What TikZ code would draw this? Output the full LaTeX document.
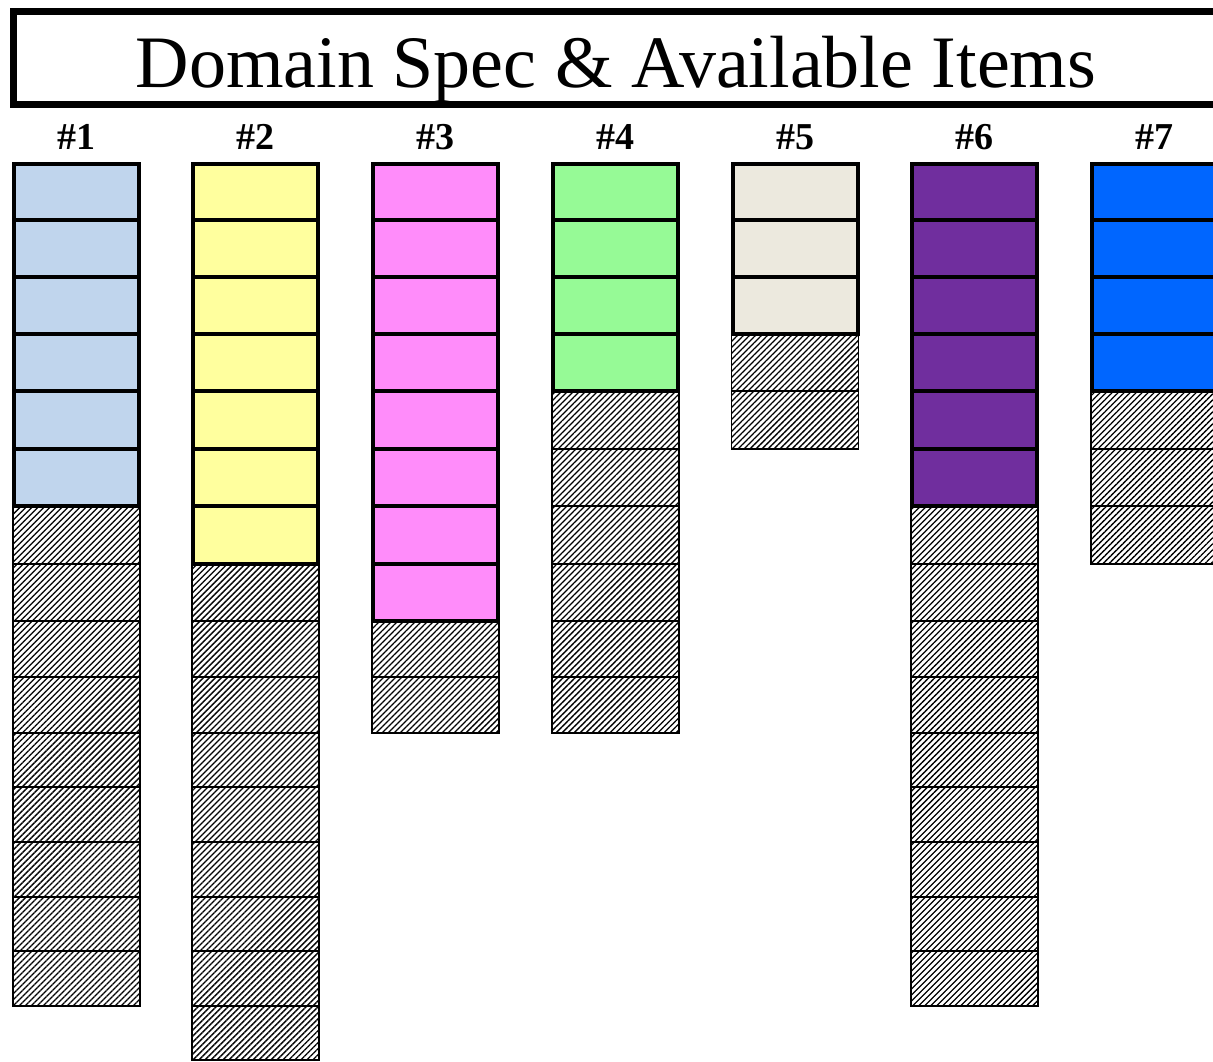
\documentclass[tikz,border=0pt]{standalone}
\usepackage{fontspec}
\setmainfont{Liberation Serif}
\usetikzlibrary{patterns.meta}
\definecolor{cA}{RGB}{192,213,237}
\definecolor{cB}{RGB}{255,255,158}
\definecolor{cC}{RGB}{255,140,250}
\definecolor{cD}{RGB}{150,250,150}
\definecolor{cE}{RGB}{236,233,222}
\definecolor{cF}{RGB}{112,46,158}
\definecolor{cG}{RGB}{0,102,255}
\tikzset{
  titlebox/.style={draw=black, line width=7pt, fill=white},
  titletext/.style={font=\fontsize{74}{80}\selectfont, anchor=base, inner sep=0pt},
  collabel/.style={font=\bfseries\fontsize{38}{40}\selectfont, anchor=base, inner sep=0pt},
  itemcell/.style={draw=black, line width=4pt},
  freecell/.style={draw=black, line width=1.8pt,
    pattern={Lines[angle=45, distance=4.24pt, line width=1.3pt]}, pattern color=black},
}
\begin{document}
\begin{tikzpicture}[x=1pt,y=-1pt]
\useasboundingbox (0,0) rectangle (1213,1061);
\clip (0,0) rectangle (1213,1061);
\fill[white] (0,0) rectangle (1213,1061);
% title
\draw[titlebox] (13,11) rectangle (1222,104);
\node[titletext] (title) at (616,87) {Domain Spec \& Available Items};
\def\Ys{{163.5,219.5,277,334,391,449,506,564,621,677,733,787,842,897,951,1006,1060}}
\foreach \x/\c/\n/\m/\k in {12/cA/6/15/1, 191/cB/7/16/2, 371/cC/8/10/3, 551/cD/4/10/4, 730.5/cE/3/5/5, 910/cF/6/15/6, 1090/cG/4/7/7}{
  \node[collabel] (lab\k) at (\x+64.5,149) {\#\k};
  % free (hatched) slots
  \pgfmathtruncatemacro\mm{\m-1}
  \foreach \r in {\n,...,\mm}{
    \pgfmathsetmacro\ya{\Ys[\r]}
    \pgfmathsetmacro\yb{\Ys[\r+1]}
    \draw[freecell] (\x+1,\ya) rectangle (\x+128,\yb);
  }
  % item slots
  \pgfmathtruncatemacro\nn{\n-1}
  \foreach \r in {0,...,\nn}{
    \pgfmathsetmacro\ya{\Ys[\r]}
    \pgfmathsetmacro\yb{\Ys[\r+1]}
    \draw[itemcell, fill=\c] (\x+2,\ya) rectangle (\x+127,\yb);
  }
}
\end{tikzpicture}
\end{document}
